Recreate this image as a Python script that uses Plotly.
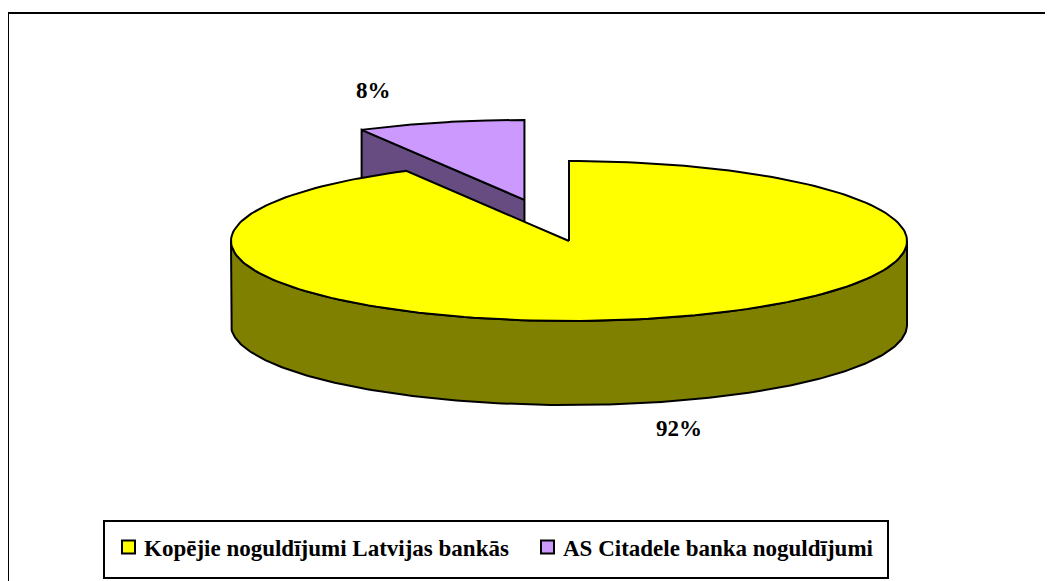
import numpy as np
import plotly.graph_objects as go

# ---- data ----
categories = ["Kopējie noguldījumi Latvijas bankās", "AS Citadele banka noguldījumi"]
values = [92, 8]
top_colors = ["#FFFF00", "#CC99FF"]
side_colors = ["#808000", "#664C80"]

# ---- geometry / style (screen pixels; page body has an 8px margin) ----
W, H = 1053, 581
OFF = 8
cx, cy = 569, 241          # centre of pie top ellipse
rx, ry = 338, 80           # ellipse radii
depth = 84                 # pie thickness
explode = [0.0, 0.53]      # explode fraction per slice
FONT = "Liberation Serif"
FS = 23

total = float(sum(values))
fracs = [v / total for v in values]

# angles measured clockwise from 12 o'clock, in degrees
starts, ends = [], []
a = 0.0
for f in fracs:
    starts.append(a)
    a += f * 360.0
    ends.append(a)


def pt(theta_deg, ox=0.0, oy=0.0, dz=0.0):
    t = np.radians(theta_deg)
    return cx + ox + rx * np.sin(t), cy + oy - ry * np.cos(t) + dz


def arc(t0, t1, ox=0.0, oy=0.0, dz=0.0, n=200):
    ts = np.linspace(t0, t1, n)
    xs = cx + ox + rx * np.sin(np.radians(ts))
    ys = cy + oy - ry * np.cos(np.radians(ts)) + dz
    return list(xs), list(ys)


fig = go.Figure()


def poly(xs, ys, color, name):
    fig.add_trace(go.Scatter(
        x=list(xs) + [xs[0]], y=list(ys) + [ys[0]], mode="lines", fill="toself",
        fillcolor=color, line=dict(color="black", width=2), name=name,
        hoverinfo="name", showlegend=False))


# offsets of each slice
offs = []
for i in range(len(values)):
    mid = np.radians((starts[i] + ends[i]) / 2)
    offs.append((explode[i] * rx * np.sin(mid), -explode[i] * ry * np.cos(mid)))

# --- slice 2 (exploded, at the back) ---
i = 1
ox, oy = offs[i]
ax_, ay_ = cx + ox, cy + oy
px, py = pt(starts[i], ox, oy)
poly([ax_, px, px, ax_], [ay_, py, py + depth, ay_ + depth], side_colors[i], categories[i])
xs, ys = arc(starts[i], ends[i], ox, oy)
poly([ax_] + xs, [ay_] + ys, top_colors[i], categories[i])

# --- slice 1 ---
i = 0
ox, oy = offs[i]
xs_t, ys_t = arc(90, 270, ox, oy)
xs_b, ys_b = arc(270, 90, ox, oy, dz=depth)
poly(xs_t + xs_b, ys_t + ys_b, side_colors[i], categories[i])
xs, ys = arc(starts[i], ends[i], ox, oy)
poly([cx + ox] + xs, [cy + oy] + ys, top_colors[i], categories[i])

# --- percentage labels ---
label_pos = [(679, 428), (373, 90)]
annotations = []
for v, (lx, ly) in zip(fracs, label_pos):
    annotations.append(dict(
        x=lx, y=ly, xref="x", yref="y", text="<b>%d%%</b>" % round(v * 100),
        showarrow=False, font=dict(family=FONT, size=FS, color="black")))

shapes = [
    dict(type="rect", xref="x", yref="y", x0=8, y0=13, x1=1048, y1=600,
         line=dict(color="black", width=2), fillcolor="rgba(0,0,0,0)", layer="below"),
    dict(type="rect", xref="x", yref="y", x0=104, y0=521, x1=888, y1=578,
         line=dict(color="black", width=2), fillcolor="rgba(0,0,0,0)"),
]

# --- legend (drawn inside the framed box) ---
leg_sq_x = [122, 541]
leg_y = 548
sq = 13
for name, col, lx in zip(categories, top_colors, leg_sq_x):
    shapes.append(dict(type="rect", xref="x", yref="y", x0=lx, x1=lx + sq,
                       y0=leg_y - sq / 2 - 1, y1=leg_y + sq / 2 - 1,
                       fillcolor=col, line=dict(color="black", width=2)))
    annotations.append(dict(x=lx + sq + 7, y=leg_y, xref="x", yref="y",
                            xanchor="left", yanchor="middle", showarrow=False,
                            text="<b>%s</b>" % name,
                            font=dict(family=FONT, size=FS, color="black")))

fig.update_layout(
    width=W, height=H,
    margin=dict(l=0, r=0, t=0, b=0),
    paper_bgcolor="white", plot_bgcolor="white",
    xaxis=dict(range=[OFF, W + OFF], visible=False, fixedrange=True),
    yaxis=dict(range=[H + OFF, OFF], visible=False, fixedrange=True),
    shapes=shapes,
    annotations=annotations,
    showlegend=False,
)

fig.write_html("out.html")
